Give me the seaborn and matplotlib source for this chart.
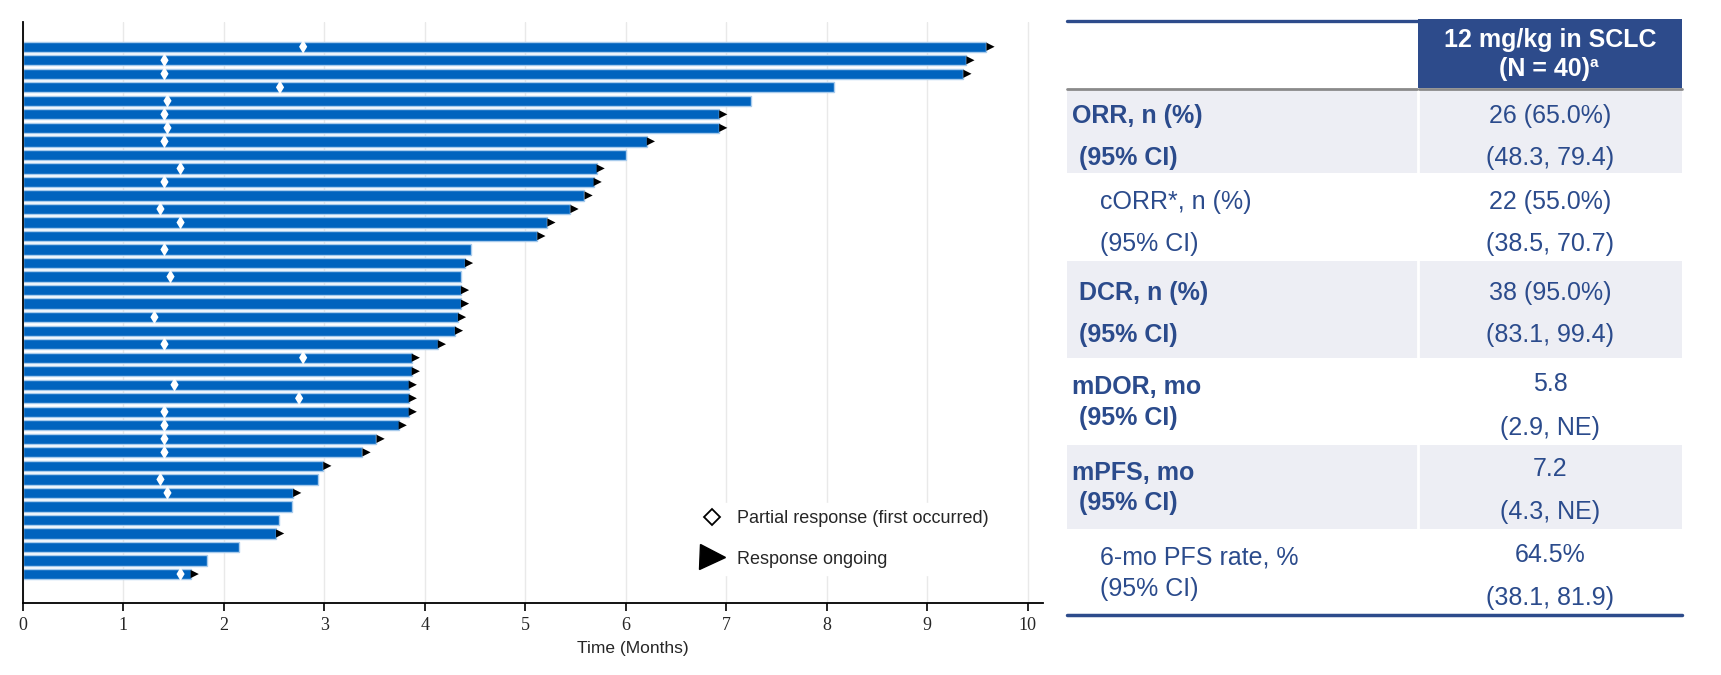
import numpy as np
import pandas as pd
import matplotlib.pyplot as plt
from matplotlib.path import Path
from matplotlib.lines import Line2D
from matplotlib.patches import Rectangle
import seaborn as sns

sns.set_style("white")
plt.rcParams['font.family'] = ['Liberation Sans', 'DejaVu Sans']

# swimmer data: one row per patient, top to bottom
months = [9.59, 9.39, 9.36, 8.07, 7.25, 6.93, 6.93, 6.21, 6.00, 5.71,
          5.68, 5.59, 5.45, 5.22, 5.12, 4.46, 4.40, 4.36, 4.36, 4.36,
          4.33, 4.30, 4.13, 3.87, 3.87, 3.84, 3.84, 3.84, 3.74, 3.52,
          3.38, 2.99, 2.94, 2.69, 2.68, 2.55, 2.52, 2.15, 1.83, 1.67]
ongoing = [1, 1, 1, 0, 0, 1, 1, 1, 0, 1,
           1, 1, 1, 1, 1, 0, 1, 0, 1, 1,
           1, 1, 1, 1, 1, 1, 1, 1, 1, 1,
           1, 1, 0, 1, 0, 0, 1, 0, 0, 1]
pr_first = [2.79, 1.41, 1.41, 2.56, 1.44, 1.41, 1.44, 1.41, np.nan, 1.57,
            1.41, np.nan, 1.37, 1.57, np.nan, 1.41, np.nan, 1.47, np.nan, np.nan,
            1.31, np.nan, 1.41, 2.79, np.nan, 1.51, 2.75, 1.41, 1.41, 1.41,
            1.41, np.nan, 1.37, 1.44, np.nan, np.nan, np.nan, np.nan, np.nan, 1.57]
xticks = list(range(0, 11))

# table content
col_header = ["12 mg/kg in SCLC", "(N = 40)", "a"]
row_labels = [("ORR, n (%)", "(95% CI)"),
              ("cORR*, n (%)", "(95% CI)"),
              ("DCR, n (%)", "(95% CI)"),
              ("mDOR, mo", "(95% CI)"),
              ("mPFS, mo", "(95% CI)"),
              ("6-mo PFS rate, %", "(95% CI)")]
row_values = [("26 (65.0%)", "(48.3, 79.4)"),
              ("22 (55.0%)", "(38.5, 70.7)"),
              ("38 (95.0%)", "(83.1, 99.4)"),
              ("5.8", "(2.9, NE)"),
              ("7.2", "(4.3, NE)"),
              ("64.5%", "(38.1, 81.9)")]
row_bold = [True, False, True, True, True, False]
row_shaded = [True, False, True, False, True, False]

df = pd.DataFrame({
    'pt': [f"P{i:02d}" for i in range(len(months))],
    'months': months,
    'arrow': [m if o else np.nan for m, o in zip(months, ongoing)],
    'pr': pr_first,
})

BAR = '#0063BE'
NAVY = '#2B4B8C'
SHADE = '#EDEEF4'

fig = plt.figure(figsize=(17.21, 6.75), dpi=100)
ax = fig.add_axes([0.01325, 0.1071, 0.5926, 0.8603])

sns.barplot(data=df, x='months', y='pt', orient='h', color=BAR, saturation=1,
            width=0.76, edgecolor='#A8CBEC', linewidth=1, ax=ax, zorder=2)

# arrow marker with its base at the data point
arrow = Path([(0, -0.5), (1, 0), (0, 0.5), (0, -0.5)],
             [Path.MOVETO, Path.LINETO, Path.LINETO, Path.CLOSEPOLY])
sns.scatterplot(data=df, x='arrow', y='pt', marker=arrow, s=140, color='black',
                edgecolor='none', ax=ax, zorder=4, legend=False)
sns.scatterplot(data=df, x='pr', y='pt', marker='d', s=48, color='white',
                edgecolor='none', ax=ax, zorder=4, legend=False)

ax.set_xlim(0, 10.15)
ax.set_ylim(len(months) + 1.12, -1.83)
ax.set_yticks([])
ax.set_ylabel('')
ax.set_xticks(xticks)
ax.set_xticklabels([str(t) for t in xticks], family=['Liberation Serif'], fontsize=13)
ax.tick_params(axis='x', direction='out', length=6, width=1.2, color='black', pad=4,
               bottom=True)
ax.grid(axis='x', color='#E9E9E9', lw=1)
ax.set_axisbelow(True)
for s in ['top', 'right']:
    ax.spines[s].set_visible(False)
for s in ['left', 'bottom']:
    ax.spines[s].set_color('black')
    ax.spines[s].set_linewidth(1.3)
ax.set_xlabel('Time (Months)', fontsize=12.5)
ax.xaxis.set_label_coords(0.598, -0.066)

handles = [Line2D([], [], ls='none', marker='D', markerfacecolor='white',
                  markeredgecolor='black', markeredgewidth=1.3, markersize=8.5),
           Line2D([], [], ls='none', marker='>', color='black', markersize=18)]
leg = ax.legend(handles, ['Partial response (first occurred)', 'Response ongoing'],
                loc='upper left', bbox_to_anchor=(0.4031, 0.2550),
                bbox_transform=fig.transFigure, borderaxespad=0, borderpad=0.4,
                handlelength=1.2, handletextpad=0.8, labelspacing=1.3,
                fontsize=13, frameon=True, fancybox=False, framealpha=1,
                facecolor='white', edgecolor='white')

# table drawn in pixel coordinates
tab = fig.add_axes([0, 0, 1, 1])
tab.set_xlim(0, 1721)
tab.set_ylim(675, 0)
tab.axis('off')

x_left, x_div, x_right = 1067, 1418, 1682
row_edges = [89, 173, 261, 357.5, 445, 529, 615]
label_y = [(116, 158), (202, 244), (293, 335), (386.5, 418), (472.5, 503), (557.5, 589)]
value_y = [(116, 158), (202, 244), (293, 335), (384, 428), (469, 512.5), (555, 598)]
label_x = [(1072, 1079), (1100.5, 1100.5), (1079, 1079), (1072, 1079),
           (1072, 1079), (1100.5, 1100.5)]
x_val = 1550

for i, shaded in enumerate(row_shaded):
    if shaded:
        tab.add_patch(Rectangle((x_left, row_edges[i]), x_right - x_left,
                                row_edges[i + 1] - row_edges[i],
                                facecolor=SHADE, edgecolor='none'))
tab.plot([x_div, x_div], [row_edges[0], row_edges[-1]], color='white', lw=2)
tab.add_patch(Rectangle((x_div, 19.3), x_right - x_div, 69, facecolor='#2D4B8B',
                        edgecolor='none'))
tab.plot([x_left, x_div], [20.7, 20.7], color='#2D4B8B', lw=2.4)
tab.plot([x_left, x_div - 1], [88.5, 88.5], color='#8A8A8A', lw=2)
tab.plot([x_div + 1, x_right], [88.5, 88.5], color='#8A8A8A', lw=2)
tab.plot([x_left, x_right], [615, 615], color='#2D4B8B', lw=2.5)

tab.text(x_val, 40, col_header[0], color='white', fontsize=18, fontweight='bold',
         ha='center', va='center')
tab.text(1590, 69, col_header[1], color='white', fontsize=18, fontweight='bold',
         ha='right', va='center')
tab.text(1590, 63, col_header[2], color='white', fontsize=11, fontweight='bold',
         ha='left', va='center')

for i in range(len(row_labels)):
    w = 'bold' if row_bold[i] else 'normal'
    for j in range(2):
        tab.text(label_x[i][j], label_y[i][j], row_labels[i][j], color=NAVY,
                 fontsize=18, fontweight=w, ha='left', va='center')
        tab.text(x_val, value_y[i][j], row_values[i][j], color=NAVY,
                 fontsize=18, ha='center', va='center')

fig.savefig('out.png', dpi=100)
